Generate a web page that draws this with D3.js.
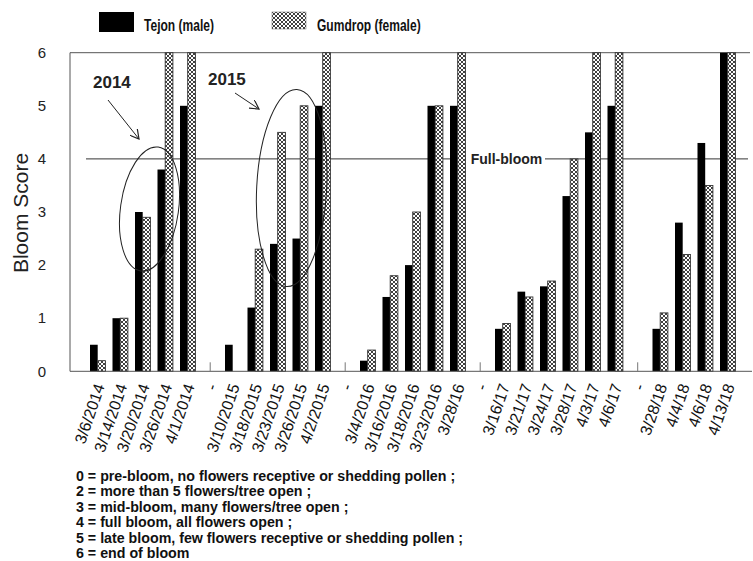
<!DOCTYPE html>
<html><head><meta charset="utf-8">
<script src="https://cdn.jsdelivr.net/npm/d3@7/dist/d3.min.js"></script>
<style>body{margin:0;background:#fff}svg{display:block}</style>
</head><body><svg id="c" width="753" height="561"></svg>
<script>
// ---- data ----
const categories = [
  "3/6/2014","3/14/2014","3/20/2014","3/26/2014","4/1/2014","-",
  "3/10/2015","3/18/2015","3/23/2015","3/26/2015","4/2/2015","-",
  "3/4/2016","3/16/2016","3/18/2016","3/23/2016","3/28/16","-",
  "3/16/17","3/21/17","3/24/17","3/28/17","4/3/17","4/6/17","-",
  "3/28/18","4/4/18","4/6/18","4/13/18"
];
const tejon = [
  0.5,1.0,3.0,3.8,5.0,null,
  0.5,1.2,2.4,2.5,5.0,null,
  0.2,1.4,2.0,5.0,5.0,null,
  0.8,1.5,1.6,3.3,4.5,5.0,null,
  0.8,2.8,4.3,6.0
];
const gumdrop = [
  0.2,1.0,2.9,6.0,6.0,null,
  null,2.3,4.5,5.0,6.0,null,
  0.4,1.8,3.0,5.0,6.0,null,
  0.9,1.4,1.7,4.0,6.0,6.0,null,
  1.1,2.2,3.5,6.0
];
const seriesNames = ["Tejon (male)","Gumdrop (female)"];
const yTicks = [0,1,2,3,4,5,6];
const fullBloom = 4;
const fullBloomLabel = "Full-bloom";
const yTitle = "Bloom Score";
const footnotes = [
  "0 = pre-bloom, no flowers receptive or shedding pollen ;",
  "2 = more than 5 flowers/tree open ;",
  "3 = mid-bloom, many flowers/tree open ;",
  "4 = full bloom, all flowers open ;",
  "5 = late bloom, few flowers receptive or shedding pollen ;",
  "6 = end of bloom"
];

// ---- layout ----
const svg = d3.select("#c");
const mLeft = 70, mRight = 752, mTop = 52.7, mBottom = 371.3;
const x = d3.scaleBand().domain(d3.range(categories.length)).range([86.45, 738.95]).padding(0);
const y = d3.scaleLinear().domain([0,6]).range([mBottom, mTop]);
const barW = 7.7;
const cx = i => x(i) + x.bandwidth()/2;

const defs = svg.append("defs");
const pat = defs.append("pattern").attr("id","hatch").attr("patternUnits","userSpaceOnUse")
  .attr("width",4).attr("height",4);
pat.append("rect").attr("width",4).attr("height",4).attr("fill","#fff");
pat.append("path").attr("d","M0,0L4,4M4,0L0,4").attr("stroke","#2a2a2a").attr("stroke-width",0.9);

const sans = "'Liberation Sans', Arial, sans-serif";

// full bloom line (under bars)
svg.append("line").attr("x1",86).attr("x2",748).attr("y1",y(fullBloom)).attr("y2",y(fullBloom))
  .attr("stroke","#333").attr("stroke-width",1);

// frame: top line, left axis
svg.append("line").attr("x1",mLeft).attr("x2",750).attr("y1",y(6)).attr("y2",y(6)).attr("stroke","#555").attr("stroke-width",1);
svg.append("line").attr("x1",mLeft).attr("x2",mLeft).attr("y1",y(6)).attr("y2",y(0)).attr("stroke","#555").attr("stroke-width",1);

// bars
const idx = d3.range(categories.length);
svg.append("g").selectAll("rect").data(idx.filter(i => tejon[i] != null)).join("rect")
  .attr("x", i => cx(i) - barW).attr("width", barW)
  .attr("y", i => y(tejon[i])).attr("height", i => y(0) - y(tejon[i]))
  .attr("fill","#000");
svg.append("g").selectAll("rect").data(idx.filter(i => gumdrop[i] != null)).join("rect")
  .attr("x", i => cx(i)).attr("width", barW)
  .attr("y", i => y(gumdrop[i])).attr("height", i => y(0) - y(gumdrop[i]))
  .attr("fill","url(#hatch)").attr("stroke","#333").attr("stroke-width",0.9);

// bottom axis
const xAxis = d3.axisBottom(x).tickSize(0).tickFormat(i => categories[i]);
const gx = svg.append("g").attr("transform",`translate(0,${y(0)})`).call(xAxis);
gx.select(".domain").remove();
svg.append("line").attr("x1",mLeft).attr("x2",mRight).attr("y1",y(0)).attr("y2",y(0)).attr("stroke","#555").attr("stroke-width",1);
gx.selectAll(".tick text")
  .attr("font-family",sans).attr("font-size",16).attr("fill","#111")
  .attr("text-anchor","end").attr("dy","0.35em").attr("y",0)
  .attr("transform","translate(2,13) rotate(-71)");
// inner ticks at separator categories
svg.append("g").selectAll("line").data(idx.filter(i => categories[i] === "-")).join("line")
  .attr("x1", cx).attr("x2", cx).attr("y1", y(0)).attr("y2", y(0) - 9)
  .attr("stroke","#777").attr("stroke-width",1);

// y axis labels
svg.append("g").selectAll("text").data(yTicks).join("text")
  .attr("x",46).attr("y", d => y(d)).attr("dy","0.35em").attr("text-anchor","end")
  .attr("font-family",sans).attr("font-size",15).attr("fill","#222").text(d => d);
svg.append("text").attr("transform",`translate(28,${(y(0)+y(6))/2 + 1}) rotate(-90)`)
  .attr("text-anchor","middle").attr("font-family",sans).attr("font-size",21).attr("fill","#222").text(yTitle);

// full-bloom label with white background
svg.append("rect").attr("x",466).attr("y",y(fullBloom)-8).attr("width",79).attr("height",16).attr("fill","#fff");
svg.append("text").attr("x",470.7).attr("y",y(fullBloom)+5.5).attr("font-family",sans)
  .attr("font-weight","bold").attr("font-size",14).attr("fill","#222").text(fullBloomLabel);

// legend
svg.append("rect").attr("x",99).attr("y",12).attr("width",35).attr("height",20).attr("fill","#000");
svg.append("text").attr("transform","translate(144,30.5) scale(0.73,1)").attr("font-family",sans).attr("font-weight","bold")
  .attr("font-size",16.5).attr("fill","#111").text(seriesNames[0]);
svg.append("rect").attr("x",272).attr("y",12).attr("width",34).attr("height",17).attr("fill","url(#hatch)")
  .attr("stroke","#666").attr("stroke-width",0.5);
svg.append("text").attr("transform","translate(317,30.5) scale(0.73,1)").attr("font-family",sans).attr("font-weight","bold")
  .attr("font-size",16.5).attr("fill","#111").text(seriesNames[1]);

// annotations
defs.append("marker").attr("id","arr").attr("viewBox","0 0 10 10").attr("refX",9).attr("refY",5)
  .attr("markerWidth",10).attr("markerHeight",10).attr("markerUnits","userSpaceOnUse").attr("orient","auto")
  .append("path").attr("d","M0,0L9,5L0,10").attr("fill","none").attr("stroke","#222").attr("stroke-width",1.2);
const ann = svg.append("g").attr("font-family",sans).attr("font-weight","bold").attr("font-size",17).attr("fill","#222");
ann.append("text").attr("x",93).attr("y",88).text("2014");
ann.append("text").attr("x",208).attr("y",85).text("2015");
svg.append("line").attr("x1",108).attr("y1",100).attr("x2",139).attr("y2",139)
  .attr("stroke","#222").attr("stroke-width",1).attr("marker-end","url(#arr)");
svg.append("line").attr("x1",235).attr("y1",93).attr("x2",259).attr("y2",109)
  .attr("stroke","#222").attr("stroke-width",1).attr("marker-end","url(#arr)");
svg.append("ellipse").attr("cx",149.5).attr("cy",209).attr("rx",29).attr("ry",62.5)
  .attr("transform","rotate(8,149.5,209)")
  .attr("fill","none").attr("stroke","#222").attr("stroke-width",1);
svg.append("ellipse").attr("cx",291.7).attr("cy",188).attr("rx",35).attr("ry",98.7)
  .attr("transform","rotate(3,291.7,188)")
  .attr("fill","none").attr("stroke","#222").attr("stroke-width",1);

// footnotes
svg.append("g").selectAll("text").data(footnotes).join("text")
  .attr("transform",(d,i) => `translate(76,${480.5 + i*15.5}) scale(0.95,1)`)
  .attr("font-family",sans).attr("font-weight","bold").attr("font-size",15).attr("fill","#111")
  .text(d => d);
</script></body></html>
